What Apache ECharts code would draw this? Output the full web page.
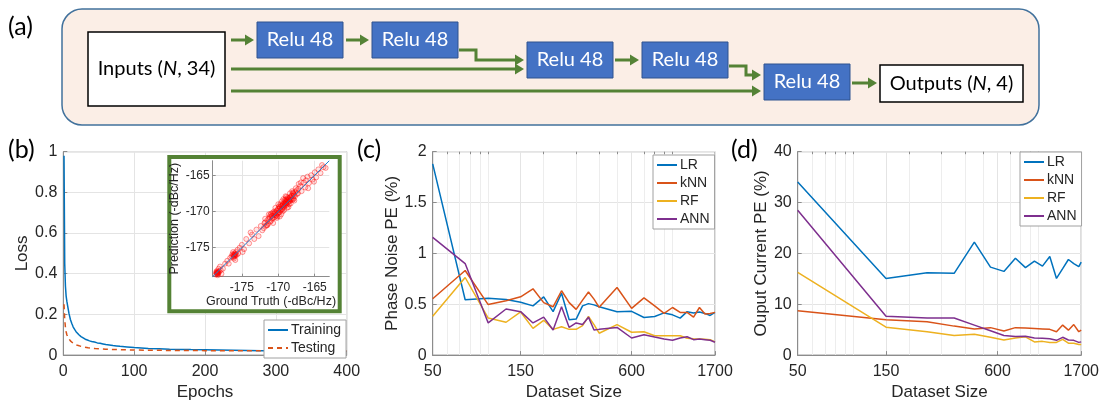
<!DOCTYPE html>
<html><head><meta charset="utf-8">
<script src="https://cdn.jsdelivr.net/npm/echarts@6/dist/echarts.min.js"></script>
<style>html,body{margin:0;padding:0;background:#fff}#c{width:1102px;height:406px}</style>
</head><body><div id="c"></div>
<script>
// ---------- DATA ----------
// (b) loss curves
const trainEpochs = [1,2,3,4,5,6,7,8,9,10,11,12,14,16,18,20,22,25,28,31,34,37,40,44,48,52,56,60,65,70,75,80,90,100,110,120,135,150,165,180,200,220,240,260,280,300,320,340,360,380,400];
const trainLoss = [0.98,0.45,0.34,0.29,0.265,0.245,0.225,0.205,0.19,0.175,0.165,0.155,0.138,0.126,0.115,0.106,0.1,0.091,0.085,0.078,0.074,0.07,0.067,0.064,0.06,0.058,0.055,0.052,0.05,0.047,0.045,0.043,0.04,0.037,0.035,0.033,0.031,0.029,0.028,0.027,0.026,0.025,0.024,0.023,0.022,0.022,0.021,0.021,0.02,0.02,0.019];
const testEpochs = [1,2,3,4,5,7,10,14,20,26,35,45,60,80,100,150,200,250,300,350,400];
const testLoss = [0.25,0.175,0.137,0.115,0.10,0.085,0.07,0.058,0.048,0.042,0.036,0.032,0.029,0.027,0.025,0.023,0.022,0.021,0.021,0.02,0.02];
// inset: ground truth vs prediction
const insetPoints = [
[-178.4,-178.6],[-178.3,-178.4],[-178.5,-178.3],[-178.2,-178.5],[-178.4,-178.2],[-178.1,-178.3],[-178.6,-178.7],[-178.3,-178.8],[-177.9,-178.1],[-178.0,-177.6],[-177.6,-177.9],[-177.3,-177.2],[-178.2,-177.9],[-177.8,-178.6],
[-178.45,-178.5],[-178.35,-178.55],[-178.5,-178.45],[-178.25,-178.35],[-178.4,-178.4],[-178.3,-178.6],
[-176.2,-176.3],[-176.0,-175.8],[-175.9,-176.1],[-176.3,-175.9],[-175.8,-175.6],[-176.1,-176.5],[-175.7,-176.0],[-176.4,-176.2],[-175.6,-175.3],[-176.0,-176.0],[-175.5,-175.8],[-176.6,-176.4],[-175.3,-175.0],[-176.2,-175.6],[-175.9,-176.7],
[-176.1,-176.1],[-175.95,-175.9],[-176.05,-176.2],[-175.85,-175.95],[-176.15,-175.95],
[-177.0,-176.8],[-176.8,-177.2],[-175.0,-174.6],[-174.7,-175.2],[-174.4,-173.8],[-174.0,-174.4],[-173.6,-173.2],[-173.3,-173.8],[-173.0,-172.5],[-172.7,-173.4],[-172.4,-172.0],[-172.2,-172.6],[-174.9,-175.6],[-173.8,-172.9],
[-171.9,-171.6],[-171.7,-172.0],[-171.5,-171.2],[-171.4,-171.7],[-171.2,-170.8],[-171.0,-171.3],[-170.9,-170.6],[-170.8,-171.0],[-170.6,-170.3],[-170.5,-170.8],[-170.4,-170.2],[-170.3,-170.5],[-170.2,-169.9],[-170.1,-170.3],[-170.0,-169.6],[-169.9,-170.1],[-169.8,-169.4],[-169.7,-169.9],[-169.6,-169.2],[-169.5,-169.6],[-169.4,-169.0],[-169.3,-169.3],[-169.2,-168.8],[-169.1,-169.2],[-169.0,-168.6],[-168.9,-168.9],[-168.8,-168.5],[-168.7,-168.7],[-168.6,-168.2],[-168.5,-168.6],[-168.4,-168.1],[-168.3,-168.4],[-168.2,-167.8],[-168.0,-168.2],[-167.9,-167.6],[-167.7,-167.9],[-167.5,-167.1],[-167.3,-167.5],
[-171.8,-171.5],[-171.6,-171.9],[-171.3,-171.0],[-171.1,-171.4],[-170.95,-170.7],[-170.75,-170.9],[-170.55,-170.5],[-170.45,-170.1],[-170.25,-170.6],[-170.15,-169.8],[-169.95,-170.2],[-169.85,-169.6],[-169.65,-169.8],[-169.55,-169.3],[-169.45,-169.7],[-169.35,-169.1],[-169.25,-169.4],[-169.15,-168.9],[-169.05,-169.0],[-168.95,-168.7],[-168.85,-169.1],[-168.75,-168.4],[-168.65,-168.8],[-168.55,-168.3],[-168.45,-168.5],[-168.35,-168.0],[-168.25,-168.3],[-168.15,-167.9],[-168.05,-168.4],[-167.95,-167.5],[-167.85,-167.8],[-167.65,-167.3],[-167.45,-167.6],[-167.25,-166.9],
[-170.6,-170.0],[-170.1,-170.7],[-169.7,-169.0],[-169.2,-169.8],[-168.7,-168.1],[-168.3,-168.9],[-169.9,-169.3],[-169.4,-170.0],[-168.9,-168.3],[-168.5,-169.0],[-170.8,-170.2],[-171.5,-171.9],[-171.0,-170.3],[-169.1,-168.4],[-168.0,-167.4],[-167.9,-168.3],
[-171.3,-170.4],[-170.7,-171.6],[-170.0,-169.0],[-169.6,-170.4],[-169.0,-167.9],[-168.6,-169.4],[-168.1,-167.2],[-167.8,-168.5],[-169.3,-168.3],[-170.4,-169.5],[-171.8,-171.0],[-169.8,-170.7],[-168.9,-168.0],[-168.4,-167.5],[-167.6,-166.8],[-172.0,-172.3],[-171.1,-170.5],[-170.2,-170.9],[-169.5,-168.6],[-168.8,-169.5],
[-167.0,-166.5],[-166.8,-167.2],[-166.5,-166.0],[-166.3,-166.7],[-166.0,-165.2],[-165.8,-166.1],[-165.5,-165.0],[-165.3,-165.6],[-165.0,-164.6],[-164.8,-165.3],[-164.5,-164.2],[-164.2,-164.7],[-163.8,-163.9],[-163.5,-164.0],[-166.6,-165.4],[-165.9,-166.8],[-167.2,-166.2],[-164.0,-163.6],[-166.9,-166.0],[-166.2,-165.7],[-165.1,-165.9]
];
const insetFit = [-179, -163];
const insetTicks = [-175, -170, -165];

// (c) phase noise PE
const sizesC = [50,75,100,125,150,175,200,225,250,275,300,325,350,375,400,500,600,700,800,900,1000,1100,1200,1300,1400,1500,1600,1700];
const LR_c  = [1.88,0.544,0.56,0.547,0.52,0.484,0.573,0.427,0.608,0.348,0.354,0.484,0.506,0.494,0.475,0.427,0.43,0.37,0.38,0.415,0.396,0.364,0.427,0.415,0.424,0.41,0.39,0.42];
const kNN_c = [0.554,0.832,0.497,0.535,0.573,0.652,0.516,0.475,0.633,0.516,0.45,0.54,0.62,0.55,0.47,0.665,0.46,0.563,0.484,0.41,0.468,0.42,0.42,0.373,0.468,0.405,0.41,0.42];
const RF_c  = [0.383,0.763,0.364,0.323,0.424,0.263,0.342,0.253,0.278,0.253,0.253,0.29,0.38,0.30,0.215,0.30,0.225,0.23,0.19,0.19,0.19,0.19,0.165,0.16,0.158,0.155,0.152,0.13];
const ANN_c = [1.158,0.90,0.316,0.453,0.427,0.316,0.373,0.247,0.475,0.272,0.316,0.30,0.373,0.247,0.253,0.272,0.168,0.20,0.177,0.158,0.146,0.168,0.18,0.152,0.158,0.152,0.146,0.127];

// (d) output current PE
const sizesD = [50,150,250,350,450,550,650,750,850,950,1050,1150,1250,1350,1450,1550,1650,1700];
const LR_d  = [34.05,15.07,16.2,16.08,22.2,17.3,16.46,19.05,17.2,18.5,17.5,19.4,15.07,17.0,18.8,18.0,17.4,18.3];
const kNN_d = [8.74,6.96,6.58,5.7,5.13,5.4,4.75,5.4,5.35,5.25,5.15,5.06,4.6,5.9,4.9,6.0,4.6,4.9];
const RF_d  = [16.27,5.5,4.6,3.86,4.1,3.5,2.97,3.35,3.6,2.6,2.7,2.5,2.5,3.1,2.35,2.34,2.1,2.1];
const ANN_d = [28.5,7.66,7.3,7.28,5.9,4.8,3.86,3.67,3.7,3.35,3.3,3.2,2.9,3.5,2.97,2.9,2.5,2.6];

const sizeMajorTicks = [50,150,600,1700];
const sizeMinorTicks = [60,70,80,90,100,200,300,400,500,700,800,900,1000];
const modelNames = ['LR','kNN','RF','ANN'];

// ---------- STYLE ----------
const FONT = 'Liberation Sans, Arial, Helvetica, sans-serif';
const DFONT = 'Lato, sans-serif';
const AX = '#8c8c8c', TXT = '#262626', GRIDC = '#e4e4e4', MINC = '#ededed';
const COLORS = {LR:'#0072BD', kNN:'#D95319', RF:'#EDB120', ANN:'#7E2F8E'};
const GREEN = '#548235';
const L10 = Math.log10;

const grids = [
  {left:63.3, top:151.7, width:283.4, height:210.3},
  {left:432.7, top:151.7, width:282.3, height:210.3},
  {left:797.7, top:151.7, width:284, height:210.3},
  {left:212.7, top:160.7, width:116.6, height:116}
].map(g => Object.assign({show:true, borderColor:AX, borderWidth:1, backgroundColor:'transparent', containLabel:false}, g));

function baseAxis(extra){
  return Object.assign({
    axisLine:{show:true, lineStyle:{color:AX, width:1}},
    axisTick:{show:true, inside:true, length:4, lineStyle:{color:AX}},
    axisLabel:{color:TXT, fontFamily:FONT, fontSize:16},
    splitLine:{show:true, lineStyle:{color:GRIDC, width:1}},
    nameTextStyle:{color:TXT, fontFamily:FONT, fontSize:17},
    nameLocation:'middle'
  }, extra);
}
const sizeFmt = v => String(Math.round(Math.pow(10, v)));

const xAxes = [
  baseAxis({gridIndex:0, type:'value', min:0, max:400, interval:100, name:'Epochs', nameGap:24, axisLabel:{color:TXT,fontFamily:FONT,fontSize:16,margin:8}}),
  baseAxis({gridIndex:1, type:'value', min:L10(50), max:L10(1700), name:'Dataset Size', nameGap:24,
    axisLabel:{color:TXT,fontFamily:FONT,fontSize:16,margin:8, customValues:sizeMajorTicks.map(L10), formatter:sizeFmt},
    axisTick:{show:true, inside:true, length:4, lineStyle:{color:AX}, customValues:sizeMajorTicks.map(L10)}}),
  baseAxis({gridIndex:1, type:'value', min:L10(50), max:L10(1700), position:'top',
    axisLine:{show:false}, axisLabel:{show:false},
    axisTick:{show:true, inside:true, length:2.5, lineStyle:{color:AX}, customValues:sizeMinorTicks.map(L10)},
    splitLine:{show:true, lineStyle:{color:MINC, width:1}}}),
  baseAxis({gridIndex:2, type:'value', min:L10(50), max:L10(1700), name:'Dataset Size', nameGap:24,
    axisLabel:{color:TXT,fontFamily:FONT,fontSize:16,margin:8, customValues:sizeMajorTicks.map(L10), formatter:sizeFmt},
    axisTick:{show:true, inside:true, length:4, lineStyle:{color:AX}, customValues:sizeMajorTicks.map(L10)}}),
  baseAxis({gridIndex:2, type:'value', min:L10(50), max:L10(1700), position:'top',
    axisLine:{show:false}, axisLabel:{show:false},
    axisTick:{show:true, inside:true, length:2.5, lineStyle:{color:AX}, customValues:sizeMinorTicks.map(L10)},
    splitLine:{show:true, lineStyle:{color:MINC, width:1}}}),
  baseAxis({gridIndex:3, type:'value', min:insetFit[0], max:insetFit[1], z:6, name:'Ground Truth (-dBc/Hz)', nameGap:18,
    nameTextStyle:{color:TXT,fontFamily:FONT,fontSize:12.5},
    axisLabel:{color:TXT,fontFamily:FONT,fontSize:12,margin:5, customValues:insetTicks},
    axisTick:{show:true, inside:true, length:3, lineStyle:{color:AX}, customValues:insetTicks}})
];
const yAxes = [
  baseAxis({gridIndex:0, type:'value', min:0, max:1, interval:0.2, name:'Loss', nameGap:31, axisLabel:{color:TXT,fontFamily:FONT,fontSize:16,margin:6}}),
  baseAxis({gridIndex:1, type:'value', min:0, max:2, interval:0.5, name:'Phase Noise PE (%)', nameGap:29, axisLabel:{color:TXT,fontFamily:FONT,fontSize:16,margin:6}}),
  baseAxis({gridIndex:2, type:'value', min:0, max:40, interval:10, name:'Ouput Current PE (%)', nameGap:26, axisLabel:{color:TXT,fontFamily:FONT,fontSize:16,margin:6}}),
  baseAxis({gridIndex:3, type:'value', min:insetFit[0], max:insetFit[1], z:6, name:'Prediction (-dBc/Hz)', nameGap:32,
    nameTextStyle:{color:TXT,fontFamily:FONT,fontSize:12.5},
    axisLabel:{color:TXT,fontFamily:FONT,fontSize:12,margin:3, customValues:insetTicks},
    axisTick:{show:true, inside:true, length:3, lineStyle:{color:AX}, customValues:insetTicks}})
];

const series = [];
series.push({name:'Training', type:'line', xAxisIndex:0, yAxisIndex:0, symbol:'none', z:2,
  lineStyle:{color:COLORS.LR, width:1.5}, itemStyle:{color:COLORS.LR},
  data: trainEpochs.map((e,i)=>[e, trainLoss[i]])});
series.push({name:'Testing', type:'line', xAxisIndex:0, yAxisIndex:0, symbol:'none', z:2,
  lineStyle:{color:COLORS.kNN, width:1.5, type:[5,4]}, itemStyle:{color:COLORS.kNN},
  data: testEpochs.map((e,i)=>[e, testLoss[i]])});
const cVals = {LR:LR_c, kNN:kNN_c, RF:RF_c, ANN:ANN_c};
const dVals = {LR:LR_d, kNN:kNN_d, RF:RF_d, ANN:ANN_d};
modelNames.forEach(n => {
  series.push({name:n, type:'line', xAxisIndex:1, yAxisIndex:1, symbol:'none', z:3,
    lineStyle:{color:COLORS[n], width:1.5}, itemStyle:{color:COLORS[n]},
    data: sizesC.map((s,i)=>[L10(s), cVals[n][i]])});
});
modelNames.forEach(n => {
  series.push({name:n, type:'line', xAxisIndex:3, yAxisIndex:2, symbol:'none', z:3,
    lineStyle:{color:COLORS[n], width:1.5}, itemStyle:{color:COLORS[n]},
    data: sizesD.map((s,i)=>[L10(s), dVals[n][i]])});
});
series.push({name:'scatter', type:'scatter', xAxisIndex:5, yAxisIndex:3, z:7, symbol:'circle', symbolSize:5,
  itemStyle:{color:'rgba(255,0,0,0.12)', borderColor:'rgba(255,0,0,0.55)', borderWidth:0.9},
  data: insetPoints});
series.push({name:'fit', type:'line', xAxisIndex:5, yAxisIndex:3, z:8, symbol:'none',
  lineStyle:{color:'#1a7fd0', width:1}, data: [[insetFit[0],insetFit[0]],[insetFit[1],insetFit[1]]]});

function legendCfg(left, top, names){
  return {left, top, orient:'vertical', data:names, selectedMode:false,
    itemWidth:20, itemHeight:10, itemGap:4, padding:[3,5,3,3],
    itemStyle:{opacity:0},
    backgroundColor:'#fff', borderColor:'#a0a0a0', borderWidth:1,
    textStyle:{color:TXT, fontFamily:FONT, fontSize:14, padding:[0,0,0,-2]}};
}

// ---------- DIAGRAM (a) ----------
const gfx = [];
gfx.push({type:'rect', shape:{x:62, y:9, width:977, height:116, r:20}, style:{fill:'#FBEEE6', stroke:'#41719C', lineWidth:1.5}, z:1});
gfx.push({type:'rect', shape:{x:88, y:32, width:137, height:74}, style:{fill:'#fff', stroke:'#000', lineWidth:1.5}, z:2});
gfx.push({type:'text', x:156.5, y:69, z:3, style:{text:'{a|Inputs (}{b|N}{a|, 34)}', align:'center', verticalAlign:'middle',
  rich:{a:{fontSize:20, fontFamily:DFONT, fill:'#000'}, b:{fontSize:20, fontFamily:DFONT, fontStyle:'italic', fill:'#000'}}}});
gfx.push({type:'rect', shape:{x:880, y:65, width:143, height:37}, style:{fill:'#fff', stroke:'#000', lineWidth:1.5}, z:2});
gfx.push({type:'text', x:951.5, y:83.5, z:3, style:{text:'{a|Outputs (}{b|N}{a|, 4)}', align:'center', verticalAlign:'middle',
  rich:{a:{fontSize:20, fontFamily:DFONT, fill:'#000'}, b:{fontSize:20, fontFamily:DFONT, fontStyle:'italic', fill:'#000'}}}});
const reluBoxes = [[257,22],[372,22],[527,42],[642,42],[764,64]];
reluBoxes.forEach(([x,y]) => {
  gfx.push({type:'rect', shape:{x, y, width:86, height:36}, style:{fill:'#4472C4', stroke:'#2F528F', lineWidth:1}, z:2});
  gfx.push({type:'text', x:x+43, y:y+18, z:3, style:{text:'Relu 48', fill:'#fff', font:'20px '+DFONT, align:'center', verticalAlign:'middle'}});
});
function arrow(points){
  const p = points.slice();
  const [tx,ty] = p[p.length-1];
  p[p.length-1] = [tx-6, ty];
  gfx.push({type:'polyline', shape:{points:p}, style:{stroke:GREEN, lineWidth:3, fill:null}, z:4});
  gfx.push({type:'polygon', shape:{points:[[tx-9,ty-5.5],[tx,ty],[tx-9,ty+5.5]]}, style:{fill:GREEN}, z:4});
}
arrow([[231,40],[254,40]]);
arrow([[346,40],[369,40]]);
arrow([[459,50],[476,50],[476,60],[524,60]]);
arrow([[231,69],[524,69]]);
arrow([[615,60],[639,60]]);
arrow([[729,66],[746,66],[746,75],[761,75]]);
arrow([[231,91],[761,91]]);
arrow([[852,83],[877,83]]);
// panel letters
[['(a)',8,27],['(b)',8,150],['(c)',357,150],['(d)',731,150]].forEach(([t,x,y]) => {
  gfx.push({type:'text', x, y, z:5, style:{text:t, fill:'#000', font:'25px '+DFONT, align:'left', verticalAlign:'middle'}});
});
// inset frame
gfx.push({type:'rect', shape:{x:169.3, y:157, width:170.4, height:154.3}, style:{fill:'#fff', stroke:GREEN, lineWidth:4}, z:3});

const option = {
  animation:false,
  backgroundColor:'#fff',
  grid: grids,
  xAxis: xAxes,
  yAxis: yAxes,
  series,
  legend:[
    legendCfg(264, 320, ['Training','Testing']),
    legendCfg(653, 155, modelNames),
    legendCfg(1020, 152, modelNames)
  ],
  graphic:{elements:gfx}
};
const chart = echarts.init(document.getElementById('c'), null, {renderer:'canvas'});
chart.setOption(option);
</script></body></html>
